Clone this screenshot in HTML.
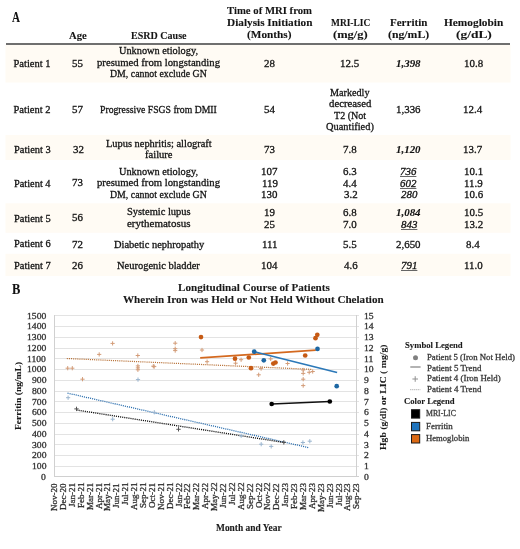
<!DOCTYPE html>
<html><head><meta charset="utf-8"><style>
html,body{margin:0;padding:0;background:#fff;}
body{width:520px;height:549px;position:relative;overflow:hidden;font-family:"Liberation Serif",serif;}
#g{position:absolute;left:0;top:0;}
.t{position:absolute;left:0;top:0;width:520px;height:549px;will-change:transform;}
.t div{position:absolute;white-space:pre;transform-origin:0 0;-webkit-text-stroke:0.3px currentColor;}
</style></head><body>
<svg id="g" width="520" height="549" viewBox="0 0 520 549" shape-rendering="auto">
<rect x="5.5" y="45" width="505" height="37.5" fill="#fffbf4"/>
<rect x="5.5" y="135" width="505" height="25.0" fill="#fffbf4"/>
<rect x="5.5" y="203.3" width="505" height="29.5" fill="#fffbf4"/>
<rect x="5.5" y="253.8" width="505" height="22.2" fill="#fffbf4"/>
<rect x="6" y="43.2" width="504" height="1.6" fill="#4d4d4d"/>
<line x1="54.5" y1="466.50" x2="359" y2="466.50" stroke="#e3e3e3" stroke-width="1"/>
<line x1="54.5" y1="455.50" x2="359" y2="455.50" stroke="#e3e3e3" stroke-width="1"/>
<line x1="54.5" y1="444.50" x2="359" y2="444.50" stroke="#e3e3e3" stroke-width="1"/>
<line x1="54.5" y1="434.50" x2="359" y2="434.50" stroke="#e3e3e3" stroke-width="1"/>
<line x1="54.5" y1="423.50" x2="359" y2="423.50" stroke="#e3e3e3" stroke-width="1"/>
<line x1="54.5" y1="412.50" x2="359" y2="412.50" stroke="#e3e3e3" stroke-width="1"/>
<line x1="54.5" y1="401.50" x2="359" y2="401.50" stroke="#e3e3e3" stroke-width="1"/>
<line x1="54.5" y1="391.50" x2="359" y2="391.50" stroke="#e3e3e3" stroke-width="1"/>
<line x1="54.5" y1="380.50" x2="359" y2="380.50" stroke="#e3e3e3" stroke-width="1"/>
<line x1="54.5" y1="369.50" x2="359" y2="369.50" stroke="#e3e3e3" stroke-width="1"/>
<line x1="54.5" y1="358.50" x2="359" y2="358.50" stroke="#e3e3e3" stroke-width="1"/>
<line x1="54.5" y1="348.50" x2="359" y2="348.50" stroke="#e3e3e3" stroke-width="1"/>
<line x1="54.5" y1="337.50" x2="359" y2="337.50" stroke="#e3e3e3" stroke-width="1"/>
<line x1="54.5" y1="326.50" x2="359" y2="326.50" stroke="#e3e3e3" stroke-width="1"/>
<line x1="54.5" y1="315.50" x2="359" y2="315.50" stroke="#e3e3e3" stroke-width="1"/>
<line x1="54" y1="476.5" x2="359" y2="476.5" stroke="#d0d0d0" stroke-width="1"/>
<line x1="54.5" y1="315" x2="54.5" y2="477" stroke="#d0d0d0" stroke-width="1"/>
<line x1="356.5" y1="315" x2="356.5" y2="477" stroke="#d0d0d0" stroke-width="1"/>
<line x1="66.8" y1="358.5" x2="312" y2="369.4" stroke="#b8733a" stroke-width="1.25" stroke-dasharray="1.1 1"/>
<line x1="67.5" y1="393.1" x2="308.5" y2="447.6" stroke="#2c6fae" stroke-width="1.3" stroke-dasharray="1.1 1"/>
<line x1="76.5" y1="410.0" x2="285" y2="442.6" stroke="#111" stroke-width="1.35" stroke-dasharray="1.1 1"/>
<path d="M65.60 368.20H69.80M67.70 366.10V370.30" stroke="#d39c78" stroke-width="1.0"/>
<path d="M70.20 368.20H74.40M72.30 366.10V370.30" stroke="#d39c78" stroke-width="1.0"/>
<path d="M80.40 379.20H84.60M82.50 377.10V381.30" stroke="#d39c78" stroke-width="1.0"/>
<path d="M97.10 354.40H101.30M99.20 352.30V356.50" stroke="#d39c78" stroke-width="1.0"/>
<path d="M110.50 343.40H114.70M112.60 341.30V345.50" stroke="#d39c78" stroke-width="1.0"/>
<path d="M135.70 355.50H139.90M137.80 353.40V357.60" stroke="#d39c78" stroke-width="1.0"/>
<path d="M135.80 365.90H140.00M137.90 363.80V368.00" stroke="#d39c78" stroke-width="1.0"/>
<path d="M135.80 367.90H140.00M137.90 365.80V370.00" stroke="#d39c78" stroke-width="1.0"/>
<path d="M135.80 369.80H140.00M137.90 367.70V371.90" stroke="#d39c78" stroke-width="1.0"/>
<path d="M151.20 366.20H155.40M153.30 364.10V368.30" stroke="#d39c78" stroke-width="1.0"/>
<path d="M152.10 366.60H156.30M154.20 364.50V368.70" stroke="#d39c78" stroke-width="1.0"/>
<path d="M173.10 343.20H177.30M175.20 341.10V345.30" stroke="#d39c78" stroke-width="1.0"/>
<path d="M173.10 348.70H177.30M175.20 346.60V350.80" stroke="#d39c78" stroke-width="1.0"/>
<path d="M173.10 350.60H177.30M175.20 348.50V352.70" stroke="#d39c78" stroke-width="1.0"/>
<path d="M199.90 350.00H204.10M202.00 347.90V352.10" stroke="#d39c78" stroke-width="1.0"/>
<path d="M205.00 361.70H209.20M207.10 359.60V363.80" stroke="#d39c78" stroke-width="1.0"/>
<path d="M233.50 363.20H237.70M235.60 361.10V365.30" stroke="#d39c78" stroke-width="1.0"/>
<path d="M239.00 359.70H243.20M241.10 357.60V361.80" stroke="#d39c78" stroke-width="1.0"/>
<path d="M268.60 358.90H272.80M270.70 356.80V361.00" stroke="#d39c78" stroke-width="1.0"/>
<path d="M285.50 363.50H289.70M287.60 361.40V365.60" stroke="#d39c78" stroke-width="1.0"/>
<path d="M301.10 370.00H305.30M303.20 367.90V372.10" stroke="#d39c78" stroke-width="1.0"/>
<path d="M301.10 373.40H305.30M303.20 371.30V375.50" stroke="#d39c78" stroke-width="1.0"/>
<path d="M301.10 379.20H305.30M303.20 377.10V381.30" stroke="#d39c78" stroke-width="1.0"/>
<path d="M301.10 385.60H305.30M303.20 383.50V387.70" stroke="#d39c78" stroke-width="1.0"/>
<path d="M307.10 372.30H311.30M309.20 370.20V374.40" stroke="#d39c78" stroke-width="1.0"/>
<path d="M310.60 371.50H314.80M312.70 369.40V373.60" stroke="#d39c78" stroke-width="1.0"/>
<path d="M256.60 374.80H260.80M258.70 372.70V376.90" stroke="#d39c78" stroke-width="1.0"/>
<path d="M259.00 368.60H263.20M261.10 366.50V370.70" stroke="#d39c78" stroke-width="1.0"/>
<path d="M66.00 397.70H70.20M68.10 395.60V399.80" stroke="#9ab5cf" stroke-width="1.0"/>
<path d="M110.60 419.20H114.80M112.70 417.10V421.30" stroke="#9ab5cf" stroke-width="1.0"/>
<path d="M135.90 379.60H140.10M138.00 377.50V381.70" stroke="#9ab5cf" stroke-width="1.0"/>
<path d="M152.20 412.30H156.40M154.30 410.20V414.40" stroke="#9ab5cf" stroke-width="1.0"/>
<path d="M239.10 435.80H243.30M241.20 433.70V437.90" stroke="#9ab5cf" stroke-width="1.0"/>
<path d="M259.10 444.20H263.30M261.20 442.10V446.30" stroke="#9ab5cf" stroke-width="1.0"/>
<path d="M269.10 446.40H273.30M271.20 444.30V448.50" stroke="#9ab5cf" stroke-width="1.0"/>
<path d="M300.80 442.50H305.00M302.90 440.40V444.60" stroke="#9ab5cf" stroke-width="1.0"/>
<path d="M307.70 441.20H311.90M309.80 439.10V443.30" stroke="#9ab5cf" stroke-width="1.0"/>
<path d="M74.30 408.90H78.70M76.50 406.70V411.10" stroke="#555555" stroke-width="1.0"/>
<path d="M176.30 429.30H180.70M178.50 427.10V431.50" stroke="#555555" stroke-width="1.0"/>
<path d="M281.60 442.40H286.00M283.80 440.20V444.60" stroke="#555555" stroke-width="1.0"/>
<line x1="200.2" y1="357.9" x2="315.8" y2="350.2" stroke="#d4691f" stroke-width="1.7"/>
<line x1="254.4" y1="351.7" x2="337.1" y2="372.5" stroke="#2b78b8" stroke-width="1.7"/>
<line x1="271.7" y1="404.0" x2="329.8" y2="401.5" stroke="#111" stroke-width="1.6"/>
<circle cx="201.0" cy="337.1" r="2.35" fill="#c65a14"/>
<circle cx="235.0" cy="358.7" r="2.35" fill="#c65a14"/>
<circle cx="248.8" cy="357.5" r="2.35" fill="#c65a14"/>
<circle cx="251.0" cy="368.2" r="2.35" fill="#c65a14"/>
<circle cx="273.3" cy="363.6" r="2.35" fill="#c65a14"/>
<circle cx="275.5" cy="362.5" r="2.35" fill="#c65a14"/>
<circle cx="305.2" cy="355.5" r="2.35" fill="#c65a14"/>
<circle cx="315.5" cy="338.2" r="2.35" fill="#c65a14"/>
<circle cx="317.3" cy="334.8" r="2.35" fill="#c65a14"/>
<circle cx="254.2" cy="351.7" r="2.35" fill="#1d67a3"/>
<circle cx="263.8" cy="360.3" r="2.35" fill="#1d67a3"/>
<circle cx="317.5" cy="348.9" r="2.35" fill="#1d67a3"/>
<circle cx="336.7" cy="386.2" r="2.35" fill="#1d67a3"/>
<circle cx="271.7" cy="404.0" r="2.35" fill="#000"/>
<circle cx="329.8" cy="401.5" r="2.35" fill="#000"/>
<circle cx="415.5" cy="357.7" r="2.5" fill="#808080"/>
<line x1="410.3" y1="367.0" x2="420.6" y2="367.0" stroke="#808080" stroke-width="1.2"/>
<path d="M412.40 379.00H418.00M415.20 376.20V381.80" stroke="#909090" stroke-width="1.0"/>
<line x1="410.3" y1="389.7" x2="420.6" y2="389.7" stroke="#9a9a9a" stroke-width="1" stroke-dasharray="1 1"/>
<rect x="411.5" y="409.7" width="8.2" height="8.4" fill="#000000" stroke="#1a1a1a" stroke-width="1"/>
<rect x="411.5" y="422.4" width="8.2" height="8.4" fill="#1f74bd" stroke="#1a1a1a" stroke-width="1"/>
<rect x="411.5" y="434.6" width="8.2" height="8.4" fill="#dc6a14" stroke="#1a1a1a" stroke-width="1"/>
</svg>
<div class="t">
<div style="left:11.70px;top:11px;font-size:13.8px;line-height:13.8px;font-weight:bold;-webkit-text-stroke-width:0.1px;color:#111;transform:scaleX(0.8000);">A</div>
<div style="left:69.40px;top:30px;font-size:10.8px;line-height:10.8px;font-weight:bold;-webkit-text-stroke-width:0.1px;color:#141414;transform:scaleX(0.9859);">Age</div>
<div style="left:131.17px;top:30px;font-size:10.8px;line-height:10.8px;font-weight:bold;-webkit-text-stroke-width:0.1px;color:#141414;transform:scaleX(0.9300);">ESRD Cause</div>
<div style="left:227.05px;top:5px;font-size:10.8px;line-height:10.8px;font-weight:bold;-webkit-text-stroke-width:0.1px;color:#141414;transform:scaleX(0.9924);">Time of MRI from</div>
<div style="left:227.04px;top:17px;font-size:10.8px;line-height:10.8px;font-weight:bold;-webkit-text-stroke-width:0.1px;color:#141414;transform:scaleX(1.0429);">Dialysis Initiation</div>
<div style="left:247.38px;top:29px;font-size:10.8px;line-height:10.8px;font-weight:bold;-webkit-text-stroke-width:0.1px;color:#141414;transform:scaleX(1.0443);">(Months)</div>
<div style="left:330.58px;top:17px;font-size:10.8px;line-height:10.8px;font-weight:bold;-webkit-text-stroke-width:0.1px;color:#141414;transform:scaleX(0.8727);">MRI-LIC</div>
<div style="left:332.92px;top:29px;font-size:10.8px;line-height:10.8px;font-weight:bold;-webkit-text-stroke-width:0.1px;color:#141414;transform:scaleX(1.1552);">(mg/g)</div>
<div style="left:389.74px;top:17px;font-size:10.8px;line-height:10.8px;font-weight:bold;-webkit-text-stroke-width:0.1px;color:#141414;transform:scaleX(1.0207);">Ferritin</div>
<div style="left:387.96px;top:29px;font-size:10.8px;line-height:10.8px;font-weight:bold;-webkit-text-stroke-width:0.1px;color:#141414;transform:scaleX(1.0884);">(ng/mL)</div>
<div style="left:443.54px;top:17px;font-size:10.8px;line-height:10.8px;font-weight:bold;-webkit-text-stroke-width:0.1px;color:#141414;transform:scaleX(1.0518);">Hemoglobin</div>
<div style="left:455.88px;top:29px;font-size:10.8px;line-height:10.8px;font-weight:bold;-webkit-text-stroke-width:0.1px;color:#141414;transform:scaleX(1.2432);">(g/dL)</div>
<div style="left:13.50px;top:59px;font-size:10.5px;line-height:10.5px;color:#141414;">Patient 1</div>
<div style="left:72.41px;top:59px;font-size:10.5px;line-height:10.5px;color:#141414;transform:scaleX(1.0400);">55</div>
<div style="left:264.41px;top:59px;font-size:10.5px;line-height:10.5px;color:#141414;transform:scaleX(1.0400);">28</div>
<div style="left:340.42px;top:59px;font-size:10.5px;line-height:10.5px;color:#141414;transform:scaleX(1.0400);">12.5</div>
<div style="left:396.35px;top:59px;font-size:10.5px;line-height:10.5px;font-weight:bold;-webkit-text-stroke-width:0.1px;font-style:italic;color:#141414;transform:scaleX(1.0400);">1,398</div>
<div style="left:463.62px;top:59px;font-size:10.5px;line-height:10.5px;color:#141414;transform:scaleX(1.0400);">10.8</div>
<div style="left:119.35px;top:46px;font-size:10.5px;line-height:10.5px;color:#141414;transform:scaleX(0.9824);">Unknown etiology,</div>
<div style="left:97.25px;top:58px;font-size:10.5px;line-height:10.5px;color:#141414;transform:scaleX(1.0187);">presumed from longstanding</div>
<div style="left:109.77px;top:69px;font-size:10.5px;line-height:10.5px;color:#141414;transform:scaleX(0.9372);">DM, cannot exclude GN</div>
<div style="left:13.50px;top:105px;font-size:10.5px;line-height:10.5px;color:#141414;">Patient 2</div>
<div style="left:72.41px;top:105px;font-size:10.5px;line-height:10.5px;color:#141414;transform:scaleX(1.0400);">57</div>
<div style="left:264.28px;top:105px;font-size:10.5px;line-height:10.5px;color:#141414;transform:scaleX(1.0400);">54</div>
<div style="left:396.09px;top:105px;font-size:10.5px;line-height:10.5px;color:#141414;transform:scaleX(1.0400);">1,336</div>
<div style="left:463.49px;top:105px;font-size:10.5px;line-height:10.5px;color:#141414;transform:scaleX(1.0400);">12.4</div>
<div style="left:99.97px;top:105px;font-size:10.5px;line-height:10.5px;color:#141414;transform:scaleX(0.9249);">Progressive FSGS from DMII</div>
<div style="left:330.36px;top:88px;font-size:10.5px;line-height:10.5px;color:#141414;transform:scaleX(0.9679);">Markedly</div>
<div style="left:328.74px;top:99px;font-size:10.5px;line-height:10.5px;color:#141414;transform:scaleX(1.0244);">decreased</div>
<div style="left:334.16px;top:111px;font-size:10.5px;line-height:10.5px;color:#141414;transform:scaleX(0.9564);">T2 (Not</div>
<div style="left:325.81px;top:122px;font-size:10.5px;line-height:10.5px;color:#141414;transform:scaleX(0.9895);">Quantified)</div>
<div style="left:13.50px;top:145px;font-size:10.5px;line-height:10.5px;color:#141414;transform:scaleX(0.9932);">Patient 3</div>
<div style="left:72.54px;top:145px;font-size:10.5px;line-height:10.5px;color:#141414;transform:scaleX(1.0400);">32</div>
<div style="left:264.28px;top:145px;font-size:10.5px;line-height:10.5px;color:#141414;transform:scaleX(1.0400);">73</div>
<div style="left:343.28px;top:145px;font-size:10.5px;line-height:10.5px;color:#141414;transform:scaleX(1.0400);">7.8</div>
<div style="left:396.35px;top:145px;font-size:10.5px;line-height:10.5px;font-weight:bold;-webkit-text-stroke-width:0.1px;font-style:italic;color:#141414;transform:scaleX(1.0400);">1,120</div>
<div style="left:463.49px;top:145px;font-size:10.5px;line-height:10.5px;color:#141414;transform:scaleX(1.0400);">13.7</div>
<div style="left:105.95px;top:139px;font-size:10.5px;line-height:10.5px;color:#141414;transform:scaleX(0.9906);">Lupus nephritis; allograft</div>
<div style="left:144.95px;top:150px;font-size:10.5px;line-height:10.5px;color:#141414;transform:scaleX(1.0056);">failure</div>
<div style="left:13.50px;top:179px;font-size:10.5px;line-height:10.5px;color:#141414;transform:scaleX(0.9864);">Patient 4</div>
<div style="left:72.28px;top:178px;font-size:10.5px;line-height:10.5px;color:#141414;transform:scaleX(1.0400);">73</div>
<div style="left:119.35px;top:167px;font-size:10.5px;line-height:10.5px;color:#141414;transform:scaleX(0.9824);">Unknown etiology,</div>
<div style="left:97.25px;top:178px;font-size:10.5px;line-height:10.5px;color:#141414;transform:scaleX(1.0187);">presumed from longstanding</div>
<div style="left:109.77px;top:190px;font-size:10.5px;line-height:10.5px;color:#141414;transform:scaleX(0.9372);">DM, cannot exclude GN</div>
<div style="left:261.42px;top:167px;font-size:10.5px;line-height:10.5px;color:#141414;transform:scaleX(1.0400);">107</div>
<div style="left:343.41px;top:167px;font-size:10.5px;line-height:10.5px;color:#141414;transform:scaleX(1.0400);">6.3</div>
<div style="left:400.12px;top:167px;font-size:10.5px;line-height:10.5px;font-style:italic;color:#141414;text-decoration:underline;text-decoration-thickness:0.8px;text-underline-offset:0.6px;text-decoration-color:#666;transform:scaleX(1.0400);">736</div>
<div style="left:463.75px;top:167px;font-size:10.5px;line-height:10.5px;color:#141414;transform:scaleX(1.0400);">10.1</div>
<div style="left:261.68px;top:179px;font-size:10.5px;line-height:10.5px;color:#141414;transform:scaleX(1.0400);">119</div>
<div style="left:343.41px;top:179px;font-size:10.5px;line-height:10.5px;color:#141414;transform:scaleX(1.0400);">4.4</div>
<div style="left:400.38px;top:179px;font-size:10.5px;line-height:10.5px;font-style:italic;color:#141414;text-decoration:underline;text-decoration-thickness:0.8px;text-underline-offset:0.6px;text-decoration-color:#666;transform:scaleX(1.0400);">602</div>
<div style="left:463.88px;top:179px;font-size:10.5px;line-height:10.5px;color:#141414;transform:scaleX(1.0400);">11.9</div>
<div style="left:261.42px;top:190px;font-size:10.5px;line-height:10.5px;color:#141414;transform:scaleX(1.0400);">130</div>
<div style="left:343.54px;top:190px;font-size:10.5px;line-height:10.5px;color:#141414;transform:scaleX(1.0400);">3.2</div>
<div style="left:400.51px;top:190px;font-size:10.5px;line-height:10.5px;font-style:italic;color:#141414;transform:scaleX(1.0400);">280</div>
<div style="left:463.62px;top:190px;font-size:10.5px;line-height:10.5px;color:#141414;transform:scaleX(1.0400);">10.6</div>
<div style="left:13.50px;top:214px;font-size:10.5px;line-height:10.5px;color:#141414;transform:scaleX(0.9932);">Patient 5</div>
<div style="left:72.41px;top:213px;font-size:10.5px;line-height:10.5px;color:#141414;transform:scaleX(1.0400);">56</div>
<div style="left:126.55px;top:207px;font-size:10.5px;line-height:10.5px;color:#141414;transform:scaleX(0.9960);">Systemic lupus</div>
<div style="left:126.78px;top:219px;font-size:10.5px;line-height:10.5px;color:#141414;transform:scaleX(1.0460);">erythematosus</div>
<div style="left:264.28px;top:208px;font-size:10.5px;line-height:10.5px;color:#141414;transform:scaleX(1.0400);">19</div>
<div style="left:343.41px;top:208px;font-size:10.5px;line-height:10.5px;color:#141414;transform:scaleX(1.0400);">6.8</div>
<div style="left:396.48px;top:208px;font-size:10.5px;line-height:10.5px;font-weight:bold;-webkit-text-stroke-width:0.1px;font-style:italic;color:#141414;transform:scaleX(1.0400);">1,084</div>
<div style="left:463.62px;top:208px;font-size:10.5px;line-height:10.5px;color:#141414;transform:scaleX(1.0400);">10.5</div>
<div style="left:264.41px;top:220px;font-size:10.5px;line-height:10.5px;color:#141414;transform:scaleX(1.0400);">25</div>
<div style="left:343.28px;top:220px;font-size:10.5px;line-height:10.5px;color:#141414;transform:scaleX(1.0400);">7.0</div>
<div style="left:400.51px;top:220px;font-size:10.5px;line-height:10.5px;font-style:italic;color:#141414;text-decoration:underline;text-decoration-thickness:0.8px;text-underline-offset:0.6px;text-decoration-color:#666;transform:scaleX(1.0400);">843</div>
<div style="left:463.75px;top:220px;font-size:10.5px;line-height:10.5px;color:#141414;transform:scaleX(1.0400);">13.2</div>
<div style="left:13.50px;top:239px;font-size:10.5px;line-height:10.5px;color:#141414;transform:scaleX(0.9932);">Patient 6</div>
<div style="left:72.41px;top:240px;font-size:10.5px;line-height:10.5px;color:#141414;transform:scaleX(1.0400);">72</div>
<div style="left:261.94px;top:240px;font-size:10.5px;line-height:10.5px;color:#141414;transform:scaleX(1.0400);">111</div>
<div style="left:343.41px;top:240px;font-size:10.5px;line-height:10.5px;color:#141414;transform:scaleX(1.0400);">5.5</div>
<div style="left:396.35px;top:240px;font-size:10.5px;line-height:10.5px;color:#141414;transform:scaleX(1.0400);">2,650</div>
<div style="left:466.48px;top:240px;font-size:10.5px;line-height:10.5px;color:#141414;transform:scaleX(1.0400);">8.4</div>
<div style="left:113.50px;top:240px;font-size:10.5px;line-height:10.5px;color:#141414;transform:scaleX(0.9945);">Diabetic nephropathy</div>
<div style="left:13.50px;top:261px;font-size:10.5px;line-height:10.5px;color:#141414;transform:scaleX(0.9932);">Patient 7</div>
<div style="left:72.41px;top:261px;font-size:10.5px;line-height:10.5px;color:#141414;transform:scaleX(1.0400);">26</div>
<div style="left:261.29px;top:261px;font-size:10.5px;line-height:10.5px;color:#141414;transform:scaleX(1.0400);">104</div>
<div style="left:343.54px;top:261px;font-size:10.5px;line-height:10.5px;color:#141414;transform:scaleX(1.0400);">4.6</div>
<div style="left:400.64px;top:261px;font-size:10.5px;line-height:10.5px;font-style:italic;color:#141414;text-decoration:underline;text-decoration-thickness:0.8px;text-underline-offset:0.6px;text-decoration-color:#666;transform:scaleX(1.0400);">791</div>
<div style="left:463.75px;top:261px;font-size:10.5px;line-height:10.5px;color:#141414;transform:scaleX(1.0400);">11.0</div>
<div style="left:117.25px;top:261px;font-size:10.5px;line-height:10.5px;color:#141414;transform:scaleX(0.9970);">Neurogenic bladder</div>
<div style="left:11.97px;top:283px;font-size:13.8px;line-height:13.8px;font-weight:bold;-webkit-text-stroke-width:0.1px;color:#111;transform:scaleX(0.9059);">B</div>
<div style="left:178.44px;top:282px;font-size:10.8px;line-height:10.8px;font-weight:bold;-webkit-text-stroke-width:0.1px;color:#1a1a1a;transform:scaleX(1.0310);">Longitudinal Course of Patients</div>
<div style="left:123.24px;top:294px;font-size:10.8px;line-height:10.8px;font-weight:bold;-webkit-text-stroke-width:0.1px;color:#1a1a1a;transform:scaleX(1.0289);">Wherein Iron was Held or Not Held Without Chelation</div>
<div style="left:41.42px;top:473px;font-size:8.6px;line-height:8.6px;color:#333333;transform:scaleX(1.1200);">0</div>
<div style="left:364.32px;top:473px;font-size:8.6px;line-height:8.6px;color:#333333;transform:scaleX(1.1200);">0</div>
<div style="left:31.62px;top:462px;font-size:8.6px;line-height:8.6px;color:#333333;transform:scaleX(1.1200);">100</div>
<div style="left:363.76px;top:462px;font-size:8.6px;line-height:8.6px;color:#333333;transform:scaleX(1.1200);">1</div>
<div style="left:31.62px;top:451px;font-size:8.6px;line-height:8.6px;color:#333333;transform:scaleX(1.1200);">200</div>
<div style="left:364.32px;top:451px;font-size:8.6px;line-height:8.6px;color:#333333;transform:scaleX(1.1200);">2</div>
<div style="left:31.62px;top:441px;font-size:8.6px;line-height:8.6px;color:#333333;transform:scaleX(1.1200);">300</div>
<div style="left:364.04px;top:441px;font-size:8.6px;line-height:8.6px;color:#333333;transform:scaleX(1.1200);">3</div>
<div style="left:31.62px;top:430px;font-size:8.6px;line-height:8.6px;color:#333333;transform:scaleX(1.1200);">400</div>
<div style="left:364.32px;top:430px;font-size:8.6px;line-height:8.6px;color:#333333;transform:scaleX(1.1200);">4</div>
<div style="left:31.62px;top:419px;font-size:8.6px;line-height:8.6px;color:#333333;transform:scaleX(1.1200);">500</div>
<div style="left:364.04px;top:419px;font-size:8.6px;line-height:8.6px;color:#333333;transform:scaleX(1.1200);">5</div>
<div style="left:31.62px;top:408px;font-size:8.6px;line-height:8.6px;color:#333333;transform:scaleX(1.1200);">600</div>
<div style="left:364.32px;top:408px;font-size:8.6px;line-height:8.6px;color:#333333;transform:scaleX(1.1200);">6</div>
<div style="left:31.62px;top:398px;font-size:8.6px;line-height:8.6px;color:#333333;transform:scaleX(1.1200);">700</div>
<div style="left:364.04px;top:398px;font-size:8.6px;line-height:8.6px;color:#333333;transform:scaleX(1.1200);">7</div>
<div style="left:31.62px;top:387px;font-size:8.6px;line-height:8.6px;color:#333333;transform:scaleX(1.1200);">800</div>
<div style="left:364.32px;top:387px;font-size:8.6px;line-height:8.6px;color:#333333;transform:scaleX(1.1200);">8</div>
<div style="left:31.62px;top:376px;font-size:8.6px;line-height:8.6px;color:#333333;transform:scaleX(1.1200);">900</div>
<div style="left:364.32px;top:376px;font-size:8.6px;line-height:8.6px;color:#333333;transform:scaleX(1.1200);">9</div>
<div style="left:26.86px;top:365px;font-size:8.6px;line-height:8.6px;color:#333333;transform:scaleX(1.1200);">1000</div>
<div style="left:363.76px;top:365px;font-size:8.6px;line-height:8.6px;color:#333333;transform:scaleX(1.1200);">10</div>
<div style="left:27.42px;top:355px;font-size:8.6px;line-height:8.6px;color:#333333;transform:scaleX(1.1200);">1100</div>
<div style="left:363.76px;top:355px;font-size:8.6px;line-height:8.6px;color:#333333;transform:scaleX(1.1200);">11</div>
<div style="left:26.86px;top:344px;font-size:8.6px;line-height:8.6px;color:#333333;transform:scaleX(1.1200);">1200</div>
<div style="left:363.76px;top:344px;font-size:8.6px;line-height:8.6px;color:#333333;transform:scaleX(1.1200);">12</div>
<div style="left:26.86px;top:333px;font-size:8.6px;line-height:8.6px;color:#333333;transform:scaleX(1.1200);">1300</div>
<div style="left:363.76px;top:333px;font-size:8.6px;line-height:8.6px;color:#333333;transform:scaleX(1.1200);">13</div>
<div style="left:26.86px;top:322px;font-size:8.6px;line-height:8.6px;color:#333333;transform:scaleX(1.1200);">1400</div>
<div style="left:363.76px;top:322px;font-size:8.6px;line-height:8.6px;color:#333333;transform:scaleX(1.1200);">14</div>
<div style="left:26.86px;top:312px;font-size:8.6px;line-height:8.6px;color:#333333;transform:scaleX(1.1200);">1500</div>
<div style="left:363.76px;top:312px;font-size:8.6px;line-height:8.6px;color:#333333;transform:scaleX(1.1200);">15</div>
<div style="left:14.30px;top:429.56px;font-size:9.2px;line-height:9.2px;font-weight:bold;-webkit-text-stroke-width:0.1px;color:#1a1a1a;transform:rotate(-90deg) scaleX(1.0385);">Ferritin (ng/mL)</div>
<div style="left:378.70px;top:450.06px;font-size:9.2px;line-height:9.2px;font-weight:bold;-webkit-text-stroke-width:0.1px;color:#1a1a1a;transform:rotate(-90deg) scaleX(1.0599);">Hgb (g/dl) or LIC ( mg/g)</div>
<div style="left:50.10px;top:510.66px;font-size:8.6px;line-height:8.6px;color:#333333;transform:rotate(-90deg) scaleX(1.0524);">Nov-20</div>
<div style="left:58.99px;top:509.61px;font-size:8.6px;line-height:8.6px;color:#333333;transform:rotate(-90deg) scaleX(1.0524);">Dec-20</div>
<div style="left:67.88px;top:506.98px;font-size:8.6px;line-height:8.6px;color:#333333;transform:rotate(-90deg) scaleX(1.0524);">Jan-21</div>
<div style="left:76.77px;top:508.30px;font-size:8.6px;line-height:8.6px;color:#333333;transform:rotate(-90deg) scaleX(1.0524);">Feb-21</div>
<div style="left:85.66px;top:509.61px;font-size:8.6px;line-height:8.6px;color:#333333;transform:rotate(-90deg) scaleX(1.0524);">Mar-21</div>
<div style="left:94.55px;top:508.82px;font-size:8.6px;line-height:8.6px;color:#333333;transform:rotate(-90deg) scaleX(1.0524);">Apr-21</div>
<div style="left:103.44px;top:511.45px;font-size:8.6px;line-height:8.6px;color:#333333;transform:rotate(-90deg) scaleX(1.0524);">May-21</div>
<div style="left:112.33px;top:507.51px;font-size:8.6px;line-height:8.6px;color:#333333;transform:rotate(-90deg) scaleX(1.0524);">Jun-21</div>
<div style="left:121.22px;top:505.40px;font-size:8.6px;line-height:8.6px;color:#333333;transform:rotate(-90deg) scaleX(1.0524);">Jul-21</div>
<div style="left:130.11px;top:510.40px;font-size:8.6px;line-height:8.6px;color:#333333;transform:rotate(-90deg) scaleX(1.0524);">Aug-21</div>
<div style="left:139.00px;top:508.30px;font-size:8.6px;line-height:8.6px;color:#333333;transform:rotate(-90deg) scaleX(1.0524);">Sep-21</div>
<div style="left:147.89px;top:507.77px;font-size:8.6px;line-height:8.6px;color:#333333;transform:rotate(-90deg) scaleX(1.0524);">Oct-21</div>
<div style="left:156.78px;top:510.40px;font-size:8.6px;line-height:8.6px;color:#333333;transform:rotate(-90deg) scaleX(1.0524);">Nov-21</div>
<div style="left:165.67px;top:509.35px;font-size:8.6px;line-height:8.6px;color:#333333;transform:rotate(-90deg) scaleX(1.0524);">Dec-21</div>
<div style="left:174.56px;top:506.98px;font-size:8.6px;line-height:8.6px;color:#333333;transform:rotate(-90deg) scaleX(1.0524);">Jan-22</div>
<div style="left:183.45px;top:508.56px;font-size:8.6px;line-height:8.6px;color:#333333;transform:rotate(-90deg) scaleX(1.0524);">Feb-22</div>
<div style="left:192.34px;top:509.87px;font-size:8.6px;line-height:8.6px;color:#333333;transform:rotate(-90deg) scaleX(1.0524);">Mar-22</div>
<div style="left:201.23px;top:508.82px;font-size:8.6px;line-height:8.6px;color:#333333;transform:rotate(-90deg) scaleX(1.0524);">Apr-22</div>
<div style="left:210.12px;top:511.45px;font-size:8.6px;line-height:8.6px;color:#333333;transform:rotate(-90deg) scaleX(1.0524);">May-22</div>
<div style="left:219.01px;top:507.51px;font-size:8.6px;line-height:8.6px;color:#333333;transform:rotate(-90deg) scaleX(1.0524);">Jun-22</div>
<div style="left:227.90px;top:505.40px;font-size:8.6px;line-height:8.6px;color:#333333;transform:rotate(-90deg) scaleX(1.0524);">Jul-22</div>
<div style="left:236.79px;top:510.40px;font-size:8.6px;line-height:8.6px;color:#333333;transform:rotate(-90deg) scaleX(1.0524);">Aug-22</div>
<div style="left:245.68px;top:508.56px;font-size:8.6px;line-height:8.6px;color:#333333;transform:rotate(-90deg) scaleX(1.0524);">Sep-22</div>
<div style="left:254.57px;top:508.03px;font-size:8.6px;line-height:8.6px;color:#333333;transform:rotate(-90deg) scaleX(1.0524);">Oct-22</div>
<div style="left:263.46px;top:510.40px;font-size:8.6px;line-height:8.6px;color:#333333;transform:rotate(-90deg) scaleX(1.0524);">Nov-22</div>
<div style="left:272.35px;top:509.61px;font-size:8.6px;line-height:8.6px;color:#333333;transform:rotate(-90deg) scaleX(1.0524);">Dec-22</div>
<div style="left:281.24px;top:507.24px;font-size:8.6px;line-height:8.6px;color:#333333;transform:rotate(-90deg) scaleX(1.0524);">Jan-23</div>
<div style="left:290.13px;top:508.56px;font-size:8.6px;line-height:8.6px;color:#333333;transform:rotate(-90deg) scaleX(1.0524);">Feb-23</div>
<div style="left:299.02px;top:509.87px;font-size:8.6px;line-height:8.6px;color:#333333;transform:rotate(-90deg) scaleX(1.0524);">Mar-23</div>
<div style="left:307.91px;top:509.08px;font-size:8.6px;line-height:8.6px;color:#333333;transform:rotate(-90deg) scaleX(1.0524);">Apr-23</div>
<div style="left:316.80px;top:511.72px;font-size:8.6px;line-height:8.6px;color:#333333;transform:rotate(-90deg) scaleX(1.0524);">May-23</div>
<div style="left:325.69px;top:507.77px;font-size:8.6px;line-height:8.6px;color:#333333;transform:rotate(-90deg) scaleX(1.0524);">Jun-23</div>
<div style="left:334.58px;top:505.66px;font-size:8.6px;line-height:8.6px;color:#333333;transform:rotate(-90deg) scaleX(1.0524);">Jul-23</div>
<div style="left:343.47px;top:510.66px;font-size:8.6px;line-height:8.6px;color:#333333;transform:rotate(-90deg) scaleX(1.0524);">Aug-23</div>
<div style="left:352.36px;top:508.56px;font-size:8.6px;line-height:8.6px;color:#333333;transform:rotate(-90deg) scaleX(1.0524);">Sep-23</div>
<div style="left:215.55px;top:523px;font-size:9.6px;line-height:9.6px;font-weight:bold;-webkit-text-stroke-width:0.1px;color:#1a1a1a;transform:scaleX(0.9835);">Month and Year</div>
<div style="left:404.62px;top:341px;font-size:9.0px;line-height:9.0px;font-weight:bold;-webkit-text-stroke-width:0.1px;color:#1a1a1a;transform:scaleX(0.9654);">Symbol Legend</div>
<div style="left:426.64px;top:354px;font-size:8.3px;line-height:8.3px;color:#3a3a3a;transform:scaleX(1.0550);">Patient 5 (Iron Not Held)</div>
<div style="left:426.63px;top:365px;font-size:8.3px;line-height:8.3px;color:#3a3a3a;transform:scaleX(1.0733);">Patient 5 Trend</div>
<div style="left:426.63px;top:375px;font-size:8.3px;line-height:8.3px;color:#3a3a3a;transform:scaleX(1.0681);">Patient 4 (Iron Held)</div>
<div style="left:426.63px;top:386px;font-size:8.3px;line-height:8.3px;color:#3a3a3a;transform:scaleX(1.0733);">Patient 4 Trend</div>
<div style="left:404.32px;top:397px;font-size:9.0px;line-height:9.0px;font-weight:bold;-webkit-text-stroke-width:0.1px;color:#1a1a1a;transform:scaleX(0.9615);">Color Legend</div>
<div style="left:426.27px;top:410px;font-size:8.3px;line-height:8.3px;color:#3a3a3a;transform:scaleX(0.9376);">MRI-LIC</div>
<div style="left:426.23px;top:423px;font-size:8.3px;line-height:8.3px;color:#3a3a3a;transform:scaleX(1.0776);">Ferritin</div>
<div style="left:426.24px;top:435px;font-size:8.3px;line-height:8.3px;color:#3a3a3a;transform:scaleX(1.0415);">Hemoglobin</div>
</div>
</body></html>
